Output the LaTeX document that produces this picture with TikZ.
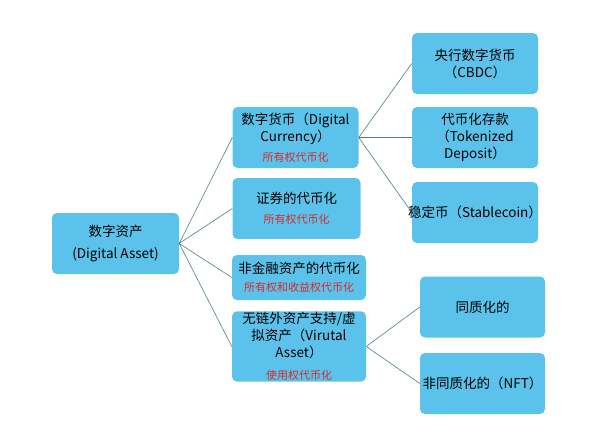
\documentclass[tikz,border=0pt]{standalone}
\usepackage{fontspec}
\setmainfont{Noto Sans CJK SC}
\usepackage{tikz}
\definecolor{boxblue}{HTML}{5BC3EB}
\definecolor{linkgray}{HTML}{4E7C86}
\definecolor{tokred}{HTML}{D62A2A}
\newcommand{\rights}[1]{{\fontsize{11}{13}\selectfont\color{tokred}#1}}

\begin{document}
\begin{tikzpicture}[x=1pt, y=-1pt,
      asset/.style={fill=boxblue, rounded corners=5pt, inner sep=1pt,
        align=center, font=\fontsize{13.5}{17}\selectfont,
        minimum width=126pt, minimum height=61pt},
      link/.style={draw=linkgray, semithick}]
      \useasboundingbox (0,0) rectangle (599,439);

      \node[asset, minimum width=127pt] (root) at (115.5,243.5)
        {数字资产\\[5pt](Digital Asset)};

      \node[asset] (dc) at (295.5,137.5)
        {数字货币（Digital\\Currency）\\[3pt]\rights{所有权代币化}};
      \node[asset, minimum width=128pt] (sec) at (296.5,208.5)
        {证券的代币化\\[3pt]\rights{所有权代币化}};
      \node[asset, minimum width=134pt, minimum height=45pt] (nonfin) at (299,277.5)
        {非金融资产的代币化\\[1pt]\rights{所有权和收益权代币化}};
      \node[asset, minimum width=134pt, minimum height=67pt] (virt) at (299,346.5)
        {无链外资产支持/虚\\拟资产（Virutal\\Asset）\\[5pt]\rights{使用权代币化}};

      \foreach \y/\al/\lab in {%
        63.5/cbdc/{央行数字货币\\（CBDC）},%
        137.5/tok/{代币化存款\\（Tokenized\\Deposit）}%
      }{ \node[asset] (\al) at (475,\y) {\lab}; }
      \node[asset, inner xsep=-4pt] (stable) at (475,212.5) {稳定币（Stablecoin）};

      \foreach \y/\al/\lab in {%
        307/fung/{同质化的},%
        383.5/nft/{非同质化的（NFT）}%
      }{ \node[asset, minimum width=125pt] (\al) at (482.5,\y) {\lab}; }

      \foreach \from/\to in {%
        root/dc, root/sec, root/nonfin, root/virt,%
        dc/cbdc, dc/tok, dc/stable, virt/fung, virt/nft%
      }{ \draw[link] (\from.east) -- (\to.west); }
    \end{tikzpicture}
\end{document}
